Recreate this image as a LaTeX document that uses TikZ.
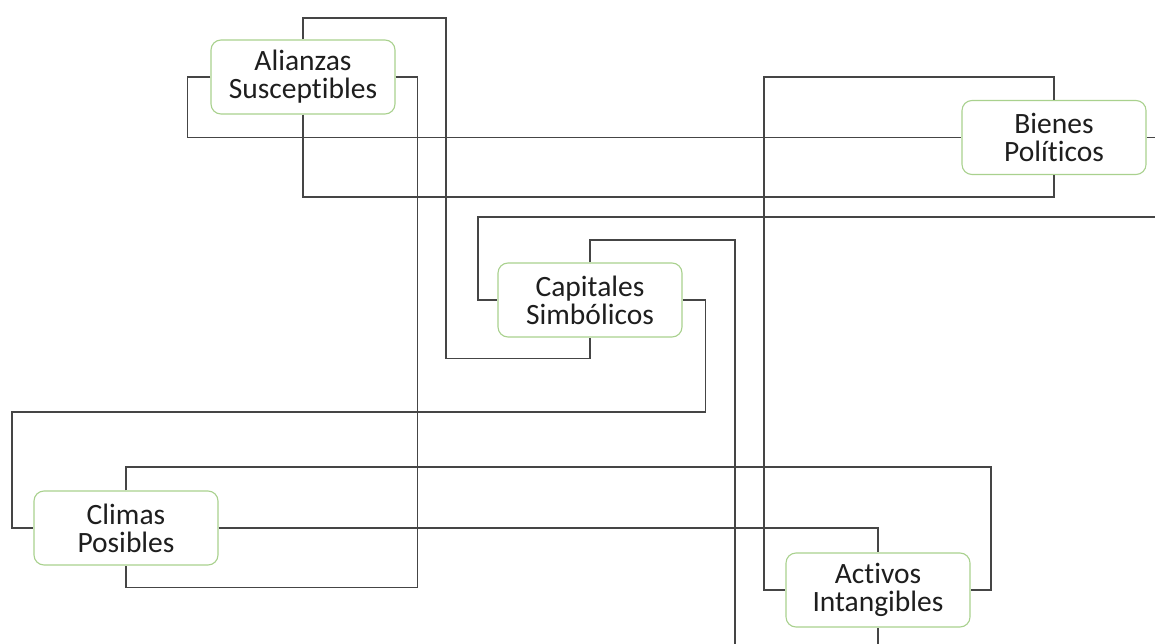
\documentclass[tikz,border=0pt]{standalone}
\usepackage{fontspec}
\setmainfont{Carlito}[Ligatures={NoCommon}]
\usetikzlibrary{calc}
\definecolor{boxgreen}{HTML}{A9D18E}
\definecolor{linegray}{HTML}{454545}
\definecolor{txt}{HTML}{1E1E1E}
\begin{document}
\begin{tikzpicture}[x=1pt,y=-1pt,
  concept/.style={draw=boxgreen, line width=1.1pt, rounded corners=10pt, fill=white,
    minimum width=184pt, minimum height=74pt, inner sep=0pt, align=center,
    text=txt, font=\fontsize{29.5}{28}\selectfont},
  link/.style={draw=linegray, line width=1.2pt}]
\fill[white] (0,0) rectangle (1155,644);
\useasboundingbox (0,0) rectangle (1155,644);
\clip (0,0) rectangle (1155,644);

\coordinate (Apos) at (303,77);
\coordinate (Bpos) at (1054,137.5);
\coordinate (Cpos) at (590,300);
\coordinate (Dpos) at (126,528);
\coordinate (Epos) at (878,590);

\node[concept] (A) at (Apos) {Alianzas\\Susceptibles};
\node[concept] (B) at (Bpos) {Bienes\\Políticos};
\node[concept] (C) at (Cpos) {Capitales\\Simbólicos};
\node[concept] (D) at (Dpos) {Climas\\Posibles};
\node[concept] (E) at (Epos) {Activos\\Intangibles};

\draw[link] (A.north) |- (446,18) |- ($(C.south)+(0,21)$) -- (C.south);
\draw[link] (A.west) -- ++(-23,0) |- (B.west);
\draw[link] (A.east) -- ++(22,0) |- ($(D.south)+(0,22)$) -- (D.south);
\draw[link] (A.south) |- ($(B.south)+(0,22)$) -- (B.south);
\draw[link] (B.north) |- (764,77) |- (E.west);
\draw[link] (B.east) -- ++(40,0) |- (478,217) |- (C.west);
\draw[link] (C.north) |- (735,240) -- (735,680) -| (E.south);
\draw[link] (C.east) -- ++(23,0) |- (12,412) |- (D.west);
\draw[link] (D.north) |- (991,467) |- (E.east);
\draw[link] (D.east) -| (E.north);
\end{tikzpicture}
\end{document}
